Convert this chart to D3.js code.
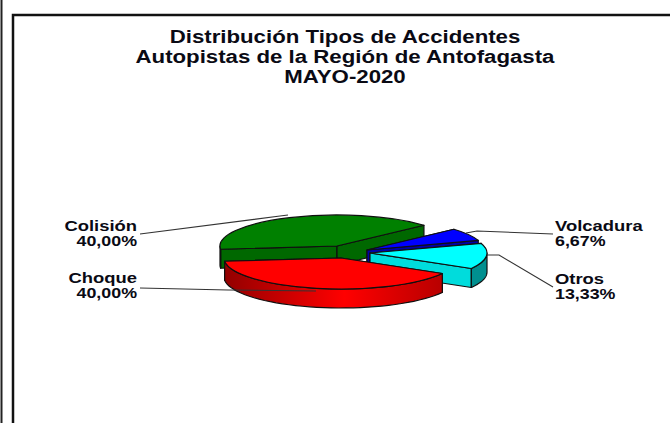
<!DOCTYPE html>
<html>
<head>
<meta charset="utf-8">
<script src="https://cdn.jsdelivr.net/npm/d3@7"></script>
<style>
body { margin: 0; background: #fff; }
svg { display: block; }
text { font-family: "Liberation Sans", Arial, sans-serif; font-weight: bold; fill: #0a0a14; }
</style>
</head>
<body>
<div id="chart"></div>
<script>
// data, clockwise from the back right
var categories = ["Volcadura", "Otros", "Choque", "Colisión"];
var values = [6.67, 13.33, 40, 40];
var percentLabels = ["6,67%", "13,33%", "40,00%", "40,00%"];
var titleLines = ["Distribución Tipos de Accidentes", "Autopistas de la Región de Antofagasta", "MAYO-2020"];

// colours per slice
var topColors = ["#0000ff", "#00ffff", "#ff0000", "#008000"];
var cutColors = ["#0000a8", "#00dcdc", "#c00000", "#006800"];
var wallColors = ["#0000a8", "#008f8f", "url(#redWall)", "#006800"];

// apex of every exploded slice
var apex = [[367, 250], [370, 253], [341, 258], [337, 246]];

// label layout: anchor, x, first line y, leader points
var labelX = [555, 555, 137, 137];
var labelY = [231, 284, 283, 231];
var labelAnchor = ["start", "start", "end", "end"];
var leaders = [
    [[553, 234], [477, 231], [466, 233]],
    [[553, 287], [499, 255], [487, 255]],
    [[140, 288], [228, 290], [316, 291]],
    [[140, 234], [280, 216], [288, 215]]
];

var width = 670, height = 423;
var rx = 117, ry = 31, depth = 19;
// the text in the picture is wider than the font
var textStretch = 1.27, percentStretch = 1.23;

var svg = d3.select("#chart").append("svg")
    .attr("width", width)
    .attr("height", height);

var grad = svg.append("defs").append("linearGradient").attr("id", "redWall");
grad.append("stop").attr("offset", "0").attr("stop-color", "#930000");
grad.append("stop").attr("offset", "0.55").attr("stop-color", "#ff0000");
grad.append("stop").attr("offset", "1").attr("stop-color", "#b80000");

// the two frame lines
svg.append("line").attr("x1", 1.5).attr("x2", 1.5).attr("y1", 0).attr("y2", height)
    .attr("stroke", "#222").attr("stroke-width", 2);
svg.append("path").attr("d", "M13," + height + "V15H" + width)
    .attr("fill", "none").attr("stroke", "#111").attr("stroke-width", 2.5);

// title
svg.append("g").selectAll("text")
    .data(titleLines)
    .enter().append("text")
    .attr("transform", function (d, i) {
        return "translate(345," + (43 + i * 20) + ") scale(" + textStretch + ",1)";
    })
    .attr("text-anchor", "middle")
    .style("font-size", "17.5px")
    .text(function (d) { return d; });

var pie = d3.pie().sort(null)
    .startAngle(48 * Math.PI / 180)
    .endAngle(408 * Math.PI / 180);
var slices = pie(values);

var arc = d3.arc().innerRadius(0).outerRadius(rx);

function rim(i, a, dy) {
    return [apex[i][0] + rx * Math.sin(a), apex[i][1] - ry * Math.cos(a) + dy];
}

var line = d3.line();

// flat side from the apex out to the rim, at angle a
function cutFace(i, a) {
    return line([apex[i], rim(i, a, 0), rim(i, a, depth), [apex[i][0], apex[i][1] + depth]]) + "Z";
}

// curved side, only the part that faces the viewer
function outerWall(i, a0, a1) {
    var from = Math.max(a0, Math.PI / 2), to = Math.min(a1, 3 * Math.PI / 2);
    if (from >= to) return null;
    var steps = d3.range(0, 41).map(function (k) { return from + (to - from) * k / 40; });
    var upper = steps.map(function (a) { return rim(i, a, 0); });
    var lower = steps.slice().reverse().map(function (a) { return rim(i, a, depth); });
    return line(upper.concat(lower)) + "Z";
}

var pieG = svg.append("g")
    .attr("stroke", "#101010")
    .attr("stroke-width", 1.2)
    .attr("stroke-linejoin", "round");

// paint back to front: Colisión, Volcadura, Otros, Choque
[3, 0, 1, 2].forEach(function (i) {
    var s = slices[i];
    var g = pieG.append("g");
    g.append("path").attr("d", cutFace(i, s.startAngle)).attr("fill", cutColors[i]);
    g.append("path").attr("d", cutFace(i, s.endAngle)).attr("fill", cutColors[i]);
    var wall = outerWall(i, s.startAngle, s.endAngle);
    if (wall) g.append("path").attr("d", wall).attr("fill", wallColors[i]);
    g.append("path")
        .attr("d", arc(s))
        .attr("transform", "translate(" + apex[i] + ") scale(1," + (ry / rx) + ")")
        .attr("vector-effect", "non-scaling-stroke")
        .attr("fill", topColors[i]);
});

// leader lines
svg.append("g").selectAll("path")
    .data(leaders)
    .enter().append("path")
    .attr("d", function (d) { return line(d); })
    .attr("fill", "none")
    .attr("stroke", "#333")
    .attr("stroke-width", 1.1);

// labels
categories.forEach(function (c, i) {
    [c, percentLabels[i]].forEach(function (txt, k) {
        svg.append("text")
            .attr("transform", "translate(" + labelX[i] + "," + (labelY[i] + k * 15) + ") scale(" + (k ? percentStretch : textStretch) + ",1)")
            .attr("text-anchor", labelAnchor[i])
            .style("font-size", "14.5px")
            .text(txt);
    });
});
</script>
</body>
</html>
